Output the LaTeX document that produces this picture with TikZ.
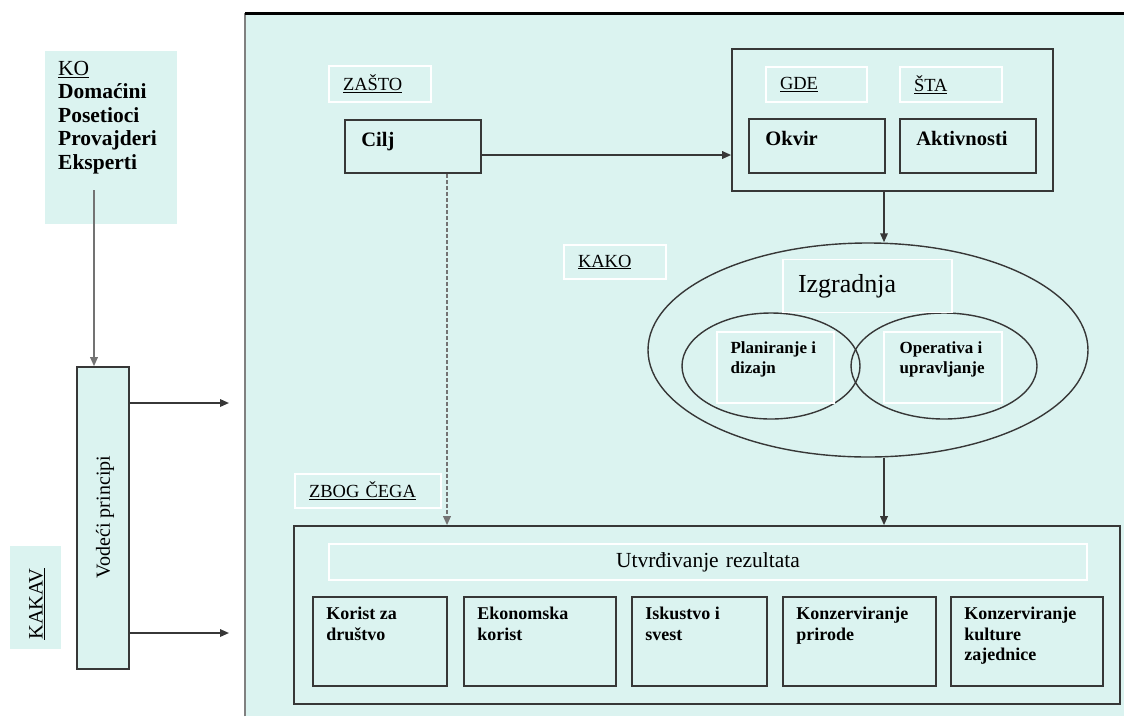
\documentclass[tikz,border=0pt]{standalone}
\usepackage{fontspec}
\setmainfont{Liberation Serif}
\usetikzlibrary{arrows.meta,shapes.geometric}
\definecolor{panelbg}{RGB}{219,243,240}
\definecolor{edge}{RGB}{55,55,55}
\tikzset{
	box/.style={draw=edge, line width=1.6pt, fill=panelbg, inner sep=0pt},
	tag/.style={draw=white, line width=1.2pt, fill=panelbg, inner xsep=14pt, inner ysep=0pt, align=left, font=\fontsize{18.5}{20}\selectfont},
	words/.style={inner sep=0pt, anchor=north west, align=left, font=\bfseries\fontsize{18}{20.5}\selectfont},
	oval/.style={ellipse, draw=edge, line width=1.4pt, inner sep=0pt},
	arr/.style={draw=edge, line width=1.7pt, -{Triangle[length=9pt,width=7.5pt]}},
}
\begin{document}
\begin{tikzpicture}[x=1pt,y=-1pt]
		\useasboundingbox (0,0) rectangle (1124,716);
		\node[fill=panelbg, inner sep=0pt, minimum width=879pt, minimum height=703pt, anchor=north west] (panel) at (245,13) {};
		\draw[gray, line width=2pt] (panel.south west) -- (panel.north west);
		\draw[black, line width=3pt] (panel.north west) -- (panel.north east);
		\node[fill=panelbg, inner sep=0pt, minimum width=132pt, minimum height=173pt] (ko) at (111,137.5) {};
		\node[words, font=\bfseries\fontsize{21.5}{23.5}\selectfont] (kotxt) at (58,61) {{\mdseries\underline{KO}}\\Domaćini\\Posetioci\\Provajderi\\Eksperti};
		\node[box, minimum width=52pt, minimum height=302pt] (vod) at (103,518) {};
		\node[rotate=90, inner sep=0pt, font=\fontsize{20}{24}\selectfont] (vodtxt) at (105,517) {Vodeći principi};
		\node[fill=panelbg, inner sep=0pt, minimum width=51pt, minimum height=103pt] (kakav) at (35.5,597.5) {};
		\node[rotate=90, inner sep=0pt, font=\fontsize{20.5}{24}\selectfont] (kakavtxt) at (37,604) {\underline{KAKAV}};
		\node[tag, text width=74pt, minimum height=36pt] (zasto) at (380,84) {\underline{ZAŠTO}};
		\node[box, minimum width=136pt, minimum height=53pt] (cilj) at (413,146.5) {};
		\node[words, font=\bfseries\fontsize{20.5}{24}\selectfont] (ciljtxt) at ([shift={(17,13)}]cilj.north west) {Cilj};
		\node[draw=edge, line width=1.6pt, inner sep=0pt, minimum width=321pt, minimum height=142pt] (gdesta) at (892.5,120) {};
		\node[tag, text width=73pt, minimum height=35pt] (gde) at (816.5,84.5) {\underline{GDE}};
		\node[tag, text width=74pt, minimum height=35pt] (sta) at (951,84.5) {\underline{ŠTA}};
		\node[box, minimum width=136pt, minimum height=54pt] (okvir) at (817,146) {};
		\node[words, font=\bfseries\fontsize{20.5}{24}\selectfont] (okvirtxt) at ([shift={(17,13)}]okvir.north west) {Okvir};
		\node[box, minimum width=136pt, minimum height=54pt] (akt) at (968,146) {};
		\node[words, font=\bfseries\fontsize{20.5}{24}\selectfont] (akttxt) at ([shift={(17,13)}]akt.north west) {Aktivnosti};
		\node[tag, text width=74pt, minimum height=34pt] (kako) at (615,262) {\underline{KAKO}};
		\node[oval, minimum width=440pt, minimum height=214pt] (izg) at (868,350) {};
		\node[oval, minimum width=178pt, minimum height=106pt] (plan) at (771,366) {};
		\node[oval, minimum width=186pt, minimum height=106pt] (oper) at (944,366) {};
		\node[tag, inner xsep=15pt, text width=139pt, minimum height=53pt, font=\fontsize{26}{30}\selectfont] (izgtag) at (867.5,286) {Izgradnja};
		\node[tag, minimum width=117pt, minimum height=71pt] (plantag) at (775.5,367.5) {};
		\node[words, font=\bfseries\fontsize{17}{20}\selectfont] (plantxt) at ([shift={(14,10)}]plantag.north west) {Planiranje i\\dizajn};
		\node[tag, minimum width=118pt, minimum height=71pt] (opertag) at (943,367.5) {};
		\node[words, font=\bfseries\fontsize{17}{20}\selectfont] (opertxt) at ([shift={(16,10)}]opertag.north west) {Operativa i\\upravljanje};
		\node[tag, text width=118pt, minimum height=34pt] (zbog) at (368,491) {\underline{ZBOG ČEGA}};
		\node[box, minimum width=826pt, minimum height=178pt] (res) at (707,615) {};
		\node[tag, align=center, text width=730pt, minimum height=36pt, font=\fontsize{21.5}{24}\selectfont] (utv) at (708,562) {Utvrđivanje rezultata};
		\foreach \n/\cx/\w/\txt in {1/380/134/{Korist za\\društvo}, 2/540/152/{Ekonomska\\korist}, 3/699.5/135/{Iskustvo i\\svest}, 4/859.5/153/{Konzerviranje\\prirode}, 5/1027/152/{Konzerviranje\\kulture\\zajednice}}
		{
			\node[box, minimum width=\w*1pt, minimum height=89pt] (res\n) at (\cx,641.5) {};
			\node[words] (restxt\n) at ([shift={(14,11)}]res\n.north west) {\txt};
		}
		\coordinate (kofoot) at (94,190);
		\coordinate (vp1) at (229,403);
		\coordinate (vp2) at (229,633);
		\coordinate (row) at (0,155);
		\coordinate (axis) at (884,0);
		\coordinate (why) at (447,0);
		\draw[arr, draw=gray!90!black] (kofoot) -- (kofoot |- vod.north);
		\draw[arr] (vod.east |- vp1) -- (vp1);
		\draw[arr] (vod.east |- vp2) -- (vp2);
		\draw[arr] (cilj.east |- row) -- (gdesta.west |- row);
		\draw[arr] (gdesta.south -| axis) -- (izg.north -| axis);
		\draw[arr] (izg.south -| axis) -- (res.north -| axis);
		\draw[arr, draw=gray!90!black, dash pattern=on 4pt off 2pt] (cilj.south -| why) -- (res.north -| why);
	\end{tikzpicture}
\end{document}
